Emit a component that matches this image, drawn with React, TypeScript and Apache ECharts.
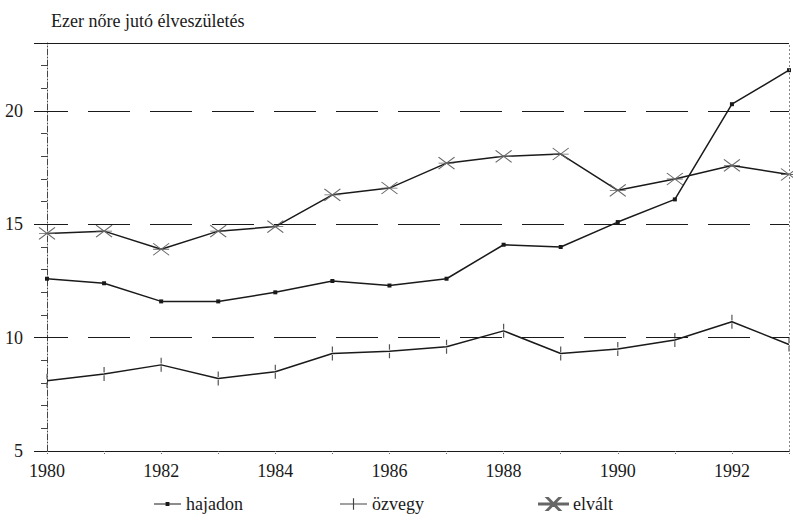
import React, { useEffect, useRef } from "react";
import * as echarts from "echarts";

const years = [1980, 1981, 1982, 1983, 1984, 1985, 1986, 1987, 1988, 1989, 1990, 1991, 1992, 1993];
const hajadon = [12.6, 12.4, 11.6, 11.6, 12.0, 12.5, 12.3, 12.6, 14.1, 14.0, 15.1, 16.1, 20.3, 21.8];
const ozvegy = [8.1, 8.4, 8.8, 8.2, 8.5, 9.3, 9.4, 9.6, 10.3, 9.3, 9.5, 9.9, 10.7, 9.7];
const elvalt = [14.6, 14.7, 13.9, 14.7, 14.9, 16.3, 16.6, 17.7, 18.0, 18.1, 16.5, 17.0, 17.6, 17.2];
const yTicks = [5, 10, 15, 20];
const dashedLevels = [10, 15, 20];
const title = "Ezer nőre jutó élveszületés";

const FONT = "Liberation Serif";
const INK = "#1a1a1a";

const pair = (vals: number[]) => years.map((y, i) => [y, vals[i]]);

const ICON_HAJADON = "path://M0,1.4L28,1.4L28,2.6L0,2.6ZM12,0L16,0L16,4L12,4Z";
const ICON_OZVEGY = "path://M0,5.4L28,5.4L28,6.6L0,6.6ZM13.4,0L14.6,0L14.6,12L13.4,12Z";
const ICON_ELVALT =
  "path://M0,5.4L29,5.4L29,6.6L0,6.6ZM8,0L9.2,0L21,12L19.8,12ZM19.8,0L21,0L9.2,12L8,12Z";

export default function App() {
  const ref = useRef<HTMLDivElement>(null);
  useEffect(() => {
    if (!ref.current) return;
    const chart = echarts.init(ref.current, undefined, { renderer: "svg" });
    const legendBase = {
      top: 490,
      itemGap: 14,
      textStyle: { fontFamily: FONT, fontSize: 18, color: INK },
    };
    chart.setOption({
      animation: false,
      backgroundColor: "#fff",
      textStyle: { fontFamily: FONT, fontSize: 18, color: INK },
      title: {
        text: title,
        left: 46,
        top: 7,
        textStyle: { fontFamily: FONT, fontSize: 18, fontWeight: "normal", color: INK },
      },
      grid: { left: 47, right: 4, top: 43, bottom: 69 },
      legend: [
        {
          ...legendBase,
          left: 149,
          itemWidth: 27,
          itemHeight: 4,
          data: [{ name: "hajadon", icon: ICON_HAJADON, itemStyle: { color: INK } }],
        },
        {
          ...legendBase,
          left: 335,
          itemWidth: 27,
          itemHeight: 12,
          itemGap: 22,
          data: [{ name: "özvegy", icon: ICON_OZVEGY, itemStyle: { color: "#444" } }],
        },
        {
          ...legendBase,
          left: 533,
          itemWidth: 29,
          itemHeight: 12,
          itemGap: 19,
          data: [{ name: "elvált", icon: ICON_ELVALT, itemStyle: { color: "#444" } }],
        },
      ],
      xAxis: {
        type: "value",
        min: 1980,
        max: 1993,
        interval: 1,
        axisLine: { show: true, lineStyle: { color: INK, width: 1.2 } },
        axisTick: { show: true, length: 4, lineStyle: { color: "#666", type: "dotted" } },
        axisLabel: {
          fontFamily: FONT,
          fontSize: 18,
          color: INK,
          margin: 11,
          formatter: (v: number) => (v % 2 === 0 && v < 1993 ? String(v) : ""),
        },
        splitLine: { show: false },
      },
      yAxis: {
        type: "value",
        min: 5,
        max: 23,
        interval: 5,
        axisLine: { show: true, lineStyle: { color: "#444", width: 1, type: [6, 2, 1, 2] } },
        axisTick: { show: true, length: 13, lineStyle: { color: INK } },
        minorTick: { show: true, splitNumber: 5, length: 6, lineStyle: { color: "#444" } },
        axisLabel: {
          fontFamily: FONT,
          fontSize: 18,
          color: INK,
          margin: 24,
          padding: [5, 0, 0, 0],
          showMaxLabel: false,
          formatter: (v: number) => (yTicks.includes(v) ? String(v) : ""),
        },
        splitLine: { show: false },
      },
      series: [
        {
          name: "hajadon",
          type: "line",
          data: pair(hajadon),
          symbol: "rect",
          symbolSize: 4,
          lineStyle: { color: INK, width: 1.5 },
          itemStyle: { color: INK },
          z: 3,
          markLine: {
            silent: true,
            symbol: "none",
            label: { show: false },
            data: [
              ...dashedLevels.map((lv) => ({
                yAxis: lv,
                lineStyle: { color: INK, width: 1.2, type: [42, 20], dashOffset: 21 },
              })),
              { yAxis: 23, lineStyle: { color: INK, width: 1.2, type: "solid" } },
              { xAxis: 1993, lineStyle: { color: "#888", width: 1, type: [2, 2] } },
            ],
          },
        },
        {
          name: "özvegy",
          type: "line",
          data: pair(ozvegy),
          symbol: "path://M0,0L1,0L1,4L0,4ZM0,6L1,6L1,10L0,10Z",
          symbolSize: [1.2, 14],
          symbolKeepAspect: false,
          lineStyle: { color: INK, width: 1.5 },
          itemStyle: { color: "#555" },
          z: 3,
        },
        {
          name: "elvált",
          type: "line",
          data: pair(elvalt),
          symbol: "path://M0,0L10,10M0,10L10,0M0,5L10,5",
          symbolSize: [16, 12],
          symbolKeepAspect: false,
          lineStyle: { color: INK, width: 1.5 },
          itemStyle: { color: "none", borderColor: "#666", borderWidth: 1 },
          z: 3,
        },
      ],
    });
    return () => chart.dispose();
  }, []);
  return (
    <div
      ref={ref}
      style={{ position: "fixed", left: 0, top: 0, width: 793, height: 520, background: "#fff" }}
    />
  );
}
